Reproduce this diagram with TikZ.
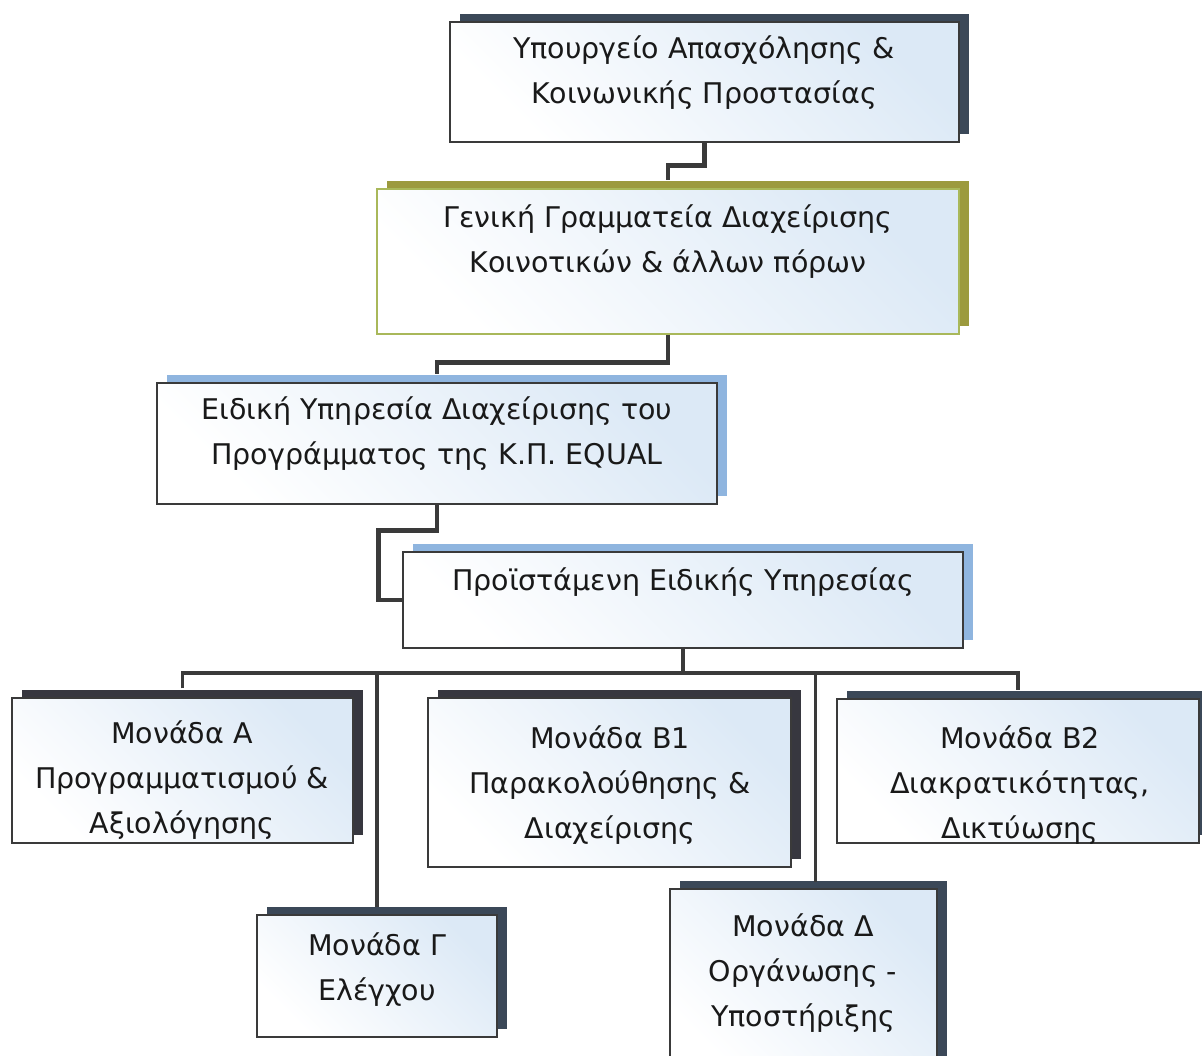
\documentclass[tikz,border=0pt]{standalone}
\usepackage{fontspec}
\setmainfont{DejaVu Sans}
\usepackage{tikz}
\usetikzlibrary{shadows}
\definecolor{slate}{HTML}{3B4858}
\definecolor{oliveshade}{HTML}{9C9A3E}
\definecolor{skyshade}{HTML}{8FB5DF}
\definecolor{darkshade}{HTML}{37373F}
\definecolor{paleblue}{HTML}{DCE9F6}
\definecolor{linegrey}{HTML}{3A3A3A}
\definecolor{greenline}{HTML}{A9B85A}

\begin{document}
\begin{tikzpicture}[x=1pt, y=-1pt,
    unit/.style={draw=linegrey, line width=1.3pt, inner sep=0pt,
        shading=axis, top color=paleblue, middle color=white, bottom color=white, shading angle=-45},
    shadowed/.style={general shadow={shadow xshift=10pt, shadow yshift=8pt, fill=#1}},
    txt/.style={font=\fontsize{28.5}{45}\selectfont, align=center, text=black!90},
    link/.style={draw=linegrey, line width=4.5pt},
    bus/.style={draw=linegrey, line width=3.5pt}]
                    \path[use as bounding box, fill=white] (0,0) rectangle (1202,1055);

                    \node[unit, shadowed=slate, minimum width=509pt, minimum height=120pt] (ministry) at (704.5,82) {};
                    \node[unit, shadowed=oliveshade, draw=greenline, minimum width=582pt, minimum height=145pt] (secretariat) at (668,261.5) {};
                    \node[unit, shadowed=skyshade, minimum width=560pt, minimum height=121pt] (service) at (437,443.5) {};
                    \node[unit, shadowed=skyshade, minimum width=560pt, minimum height=96pt] (head) at (683,600) {};

                    \node[unit, shadowed=darkshade, minimum width=341pt, minimum height=145pt] (unitA) at (182.5,770.5) {};
                    \node[unit, shadowed=darkshade, minimum width=363pt, minimum height=169pt] (unitB1) at (609.5,782.5) {};
                    \node[unit, shadowed=slate, minimum width=362pt, minimum height=144pt] (unitB2) at (1018,771) {};
                    \node[unit, shadowed=slate, minimum width=240pt, minimum height=122pt] (unitC) at (377,976) {};
                    \node[unit, shadowed=slate, minimum width=267pt, minimum height=186pt] (unitD) at (803.5,982) {};

                    \node[txt] (ministry-t) at (704,73) {Υπουργείο Απασχόλησης \&\\Κοινωνικής Προστασίας};
                    \node[txt] (secretariat-t) at (668,242) {Γενική Γραμματεία Διαχείρισης\\Κοινοτικών \& άλλων πόρων};
                    \node[txt] (service-t) at (437,434) {Ειδική Υπηρεσία Διαχείρισης του\\Προγράμματος της Κ.Π. EQUAL};
                    \node[txt] (head-t) at (683,582) {Προϊστάμενη Ειδικής Υπηρεσίας};
                    \node[txt] (unitA-t) at (182,780) {Μονάδα Α\\Προγραμματισμού \&\\Αξιολόγησης};
                    \node[txt] (unitB1-t) at (610,785) {Μονάδα Β1\\Παρακολούθησης \&\\Διαχείρισης};
                    \node[txt] (unitB2-t) at (1020,785) {Μονάδα Β2\\Διακρατικότητας,\\Δικτύωσης};
                    \node[txt] (unitC-t) at (377,970) {Μονάδα Γ\\Ελέγχου};
                    \node[txt] (unitD-t) at (803,973) {Μονάδα Δ\\Οργάνωσης -\\Υποστήριξης};

                    \coordinate (bus) at (683,673);

                    \draw[link, shorten >=8pt] (ministry.south) -- ++(0,23) -| (secretariat.north);
                    \draw[link, shorten >=8pt] (secretariat.south) -- ++(0,28) -| (service.north);
                    \draw[link] (service.south) -- ++(0,26) -| ([xshift=-24pt]head.west) -- (head.west);
                    \draw[bus] (head.south) -- (bus);
                    \draw[bus, shorten <=9pt, shorten >=8pt] (unitA.north) |- (bus) -| (unitB2.north);
                    \draw[bus, shorten <=7pt] (unitC.north) -- (unitC.north |- bus);
                    \draw[bus, shorten <=6pt] ([xshift=12pt]unitD.north) -- ([xshift=12pt]unitD.north |- bus);
                \end{tikzpicture}
\end{document}
